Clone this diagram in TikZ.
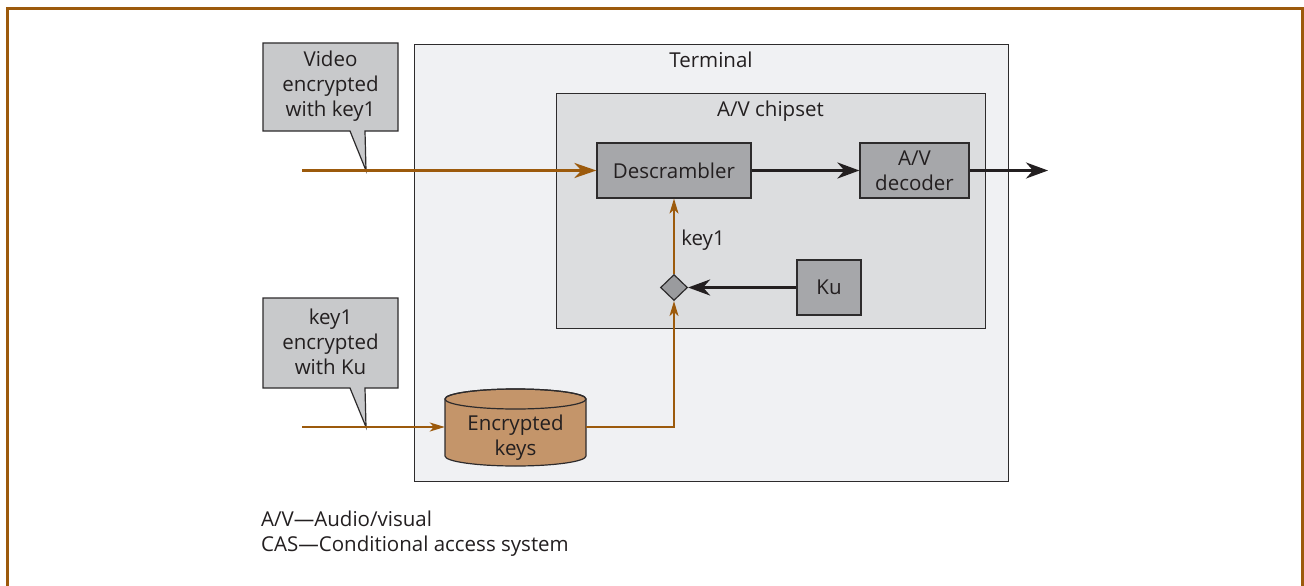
\documentclass[tikz,border=0pt]{standalone}
\usepackage{fontspec}
\setmainfont{Open Sans}
\usetikzlibrary{arrows.meta,shapes.geometric}
\definecolor{brn}{HTML}{9C5A0C}
\definecolor{txt}{HTML}{231F20}
\definecolor{bord}{HTML}{2D2B2C}
\definecolor{termfill}{HTML}{F0F1F3}
\definecolor{chipfill}{HTML}{DCDDDF}
\definecolor{boxg}{HTML}{A6A7AA}
\definecolor{callg}{HTML}{C8C9CB}
\definecolor{diag}{HTML}{9A9B9E}
\definecolor{tan}{HTML}{C4956A}
\definecolor{blk}{HTML}{231F20}
\begin{document}
\begin{tikzpicture}[x=1pt,y=1pt,
  lbl/.style={font=\fontsize{20.5}{25}\selectfont, text=txt, align=center, inner sep=0pt},
  box/.style={draw=bord, line width=1.2pt, fill=boxg, lbl},
  bigarrow/.style={line width=3pt, draw=blk, -{Stealth[length=22pt,width=16pt,inset=7pt]}},
  brnthick/.style={line width=3pt, draw=brn, -{Stealth[length=22pt,width=15pt,inset=7pt,fill=brn]}},
  brnthin/.style={line width=1.5pt, draw=brn, -{Stealth[length=15pt,width=9pt,inset=4pt,fill=brn]}},
  callout/.style={draw=bord, line width=1.2pt, fill=callg}
]
\useasboundingbox (0,0) rectangle (1304,-586);
% frame
\draw[brn, line width=3pt, fill=white] (7.5,-590) -- (7.5,-9) -- (1302,-9) -- (1302,-590);

% terminal
\node[draw=bord, line width=1.2pt, fill=termfill, minimum width=594pt, minimum height=437pt, inner sep=0pt, anchor=north west] (term) at (414,-44) {};
\node[lbl] (termlbl) at (711,-60) {Terminal};

% chipset
\node[draw=bord, line width=1.2pt, fill=chipfill, minimum width=429pt, minimum height=235pt, inner sep=0pt, anchor=north west] (chip) at (556,-93) {};
\node[lbl] (chiplbl) at (770.5,-111) {A/V chipset};

% blocks
\node[box, minimum width=154pt, minimum height=55pt] (desc) at (674,-170.5) {Descrambler};
\node[box, minimum width=109pt, minimum height=55pt] (dec) at (914.5,-170.5) {A/V\\decoder};
\node[box, minimum width=64pt, minimum height=55pt] (ku) at (829,-287.5) {Ku};
\node[diamond, draw=bord, line width=1.2pt, fill=diag, minimum width=27pt, minimum height=26pt, inner sep=0pt] (dia) at (674,-287.5) {};

% cylinder
\filldraw[fill=tan, draw=bord, line width=1.2pt] (445,-399) -- (445,-456) arc[start angle=180, end angle=360, x radius=70.5, y radius=10] -- (586,-399) arc[start angle=0, end angle=180, x radius=70.5, y radius=10] -- cycle;
\draw[bord, line width=1.2pt] (515.5,-399) ellipse [x radius=70.5, y radius=10];
\node[lbl, minimum width=141pt, minimum height=40pt] (ek) at (515.5,-427) {};
\node[lbl] (eklbl) at (515.5,-438) {Encrypted\\keys};

% callouts
\draw[callout] (263,-43) -- (398,-43) -- (398,-131) -- (365,-131) -- (366,-170.5) -- (350,-131) -- (263,-131) -- cycle;
\node[lbl] (cv) at (330.5,-86) {Video\\encrypted\\with key1};
\draw[callout] (263,-298) -- (398,-298) -- (398,-388) -- (365,-388) -- (366,-427) -- (350,-388) -- (263,-388) -- cycle;
\node[lbl] (ck) at (330.5,-342) {key1\\encrypted\\with Ku};

% connectors
\coordinate (vin) at (302,-170.5);
\coordinate (kin) at (302,-427);
\coordinate (out) at (1048,-170.5);
\draw[brnthick] (vin) -- (desc.west);
\draw[brnthin] (kin) -- (ek.west);
\draw[brnthin] (ek.east) -| (dia.south);
\draw[brnthin] (dia.north) -- (desc.south);
\node[lbl] (k1) at (703,-240) {key1};
\draw[bigarrow] (ku.west) -- (dia.east);
\draw[bigarrow] (desc.east) -- (dec.west);
\draw[bigarrow] (dec.east) -- (out);

% legend
\node[lbl, anchor=base west] (leg1) at (261,-526) {A/V—Audio/visual};
\node[lbl, anchor=base west] (leg2) at (261,-551) {CAS—Conditional access system};
\end{tikzpicture}
\end{document}
